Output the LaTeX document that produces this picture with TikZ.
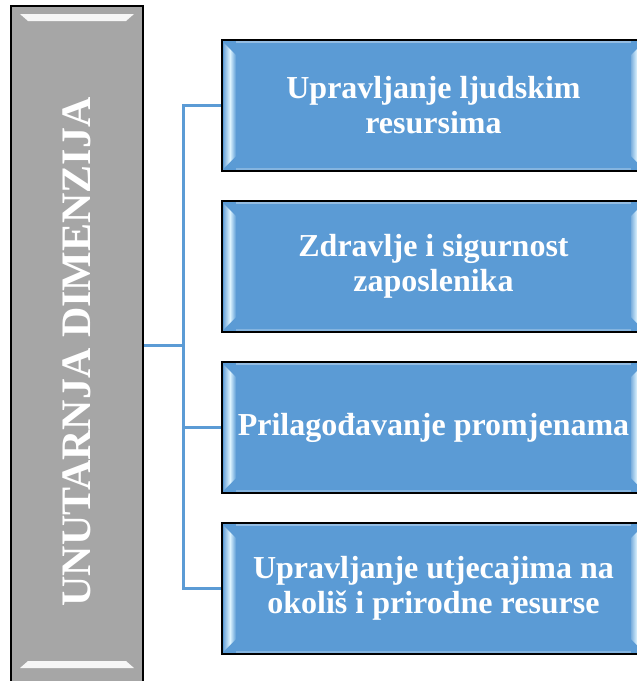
\documentclass[tikz,border=0pt]{standalone}
\usepackage{fontspec}
\setmainfont{Liberation Serif}
\usepackage{graphicx}
\usetikzlibrary{positioning,calc}
\definecolor{boxblue}{HTML}{5B9BD5}
\definecolor{boxgray}{HTML}{A6A6A6}
\definecolor{bevellight}{HTML}{DDF4FF}
\tikzset{
  itembox/.style={draw=black,line width=2pt,fill=boxblue,minimum width=423pt,minimum height=131pt,
    inner sep=0pt,text=white,align=center,font=\fontsize{32}{35}\selectfont\bfseries},
  dimbox/.style={draw=black,line width=2pt,fill=boxgray,minimum width=132pt,minimum height=678pt,
    inner sep=0pt,text=white,font=\fontsize{42}{48}\selectfont\bfseries},
  link/.style={draw=boxblue,line width=3pt},
  bevel/.style={left color=boxblue!80!white,right color=boxblue,middle color=bevellight},
  shine/.style={fill=white,opacity=.9}
}
\begin{document}
\begin{tikzpicture}[x=1pt,y=-1pt]
	\useasboundingbox (0,0) rectangle (637,681);
	\node[dimbox] (dim) at (77,345) {\rotatebox{90}{\hspace{-14pt}UNUTARNJA DIMENZIJA}};
	\fill[shine] ([xshift=10pt,yshift=-9pt]dim.north west) -- ([xshift=-10pt,yshift=-9pt]dim.north east)
		-- ([xshift=-18pt,yshift=-16pt]dim.north east) -- ([xshift=18pt,yshift=-16pt]dim.north west) -- cycle;
	\fill[shine] ([xshift=10pt,yshift=17pt]dim.south west) -- ([xshift=-10pt,yshift=17pt]dim.south east)
		-- ([xshift=-18pt,yshift=24pt]dim.south east) -- ([xshift=18pt,yshift=24pt]dim.south west) -- cycle;

	\node[itembox] (b1) at (433.5,105.5) {Upravljanje ljudskim\\resursima};
	\node[itembox,below=28pt of b1] (b2) {Zdravlje i sigurnost\\zaposlenika};
	\node[itembox,below=28pt of b2] (b3) {Prilagođavanje promjenama};
	\node[itembox,below=28pt of b3] (b4) {Upravljanje utjecajima na\\okoliš i prirodne resurse};

	\foreach \b in {b1,b2,b3,b4} {
		\shade[bevel] ([xshift=3pt,yshift=-4pt]\b.north west) -- ([xshift=15pt,yshift=-16pt]\b.north west)
			-- ([xshift=15pt,yshift=16pt]\b.south west) -- ([xshift=3pt,yshift=4pt]\b.south west) -- cycle;
		\shade[bevel] ([xshift=-3pt,yshift=-4pt]\b.north east) -- ([xshift=-15pt,yshift=-16pt]\b.north east)
			-- ([xshift=-15pt,yshift=16pt]\b.south east) -- ([xshift=-3pt,yshift=4pt]\b.south east) -- cycle;
		\draw[white,opacity=.35,line width=2pt] ([xshift=15pt,yshift=-3pt]\b.north west) -- ([xshift=-15pt,yshift=-3pt]\b.north east);
		\draw[white,opacity=.25,line width=2pt] ([xshift=15pt,yshift=3pt]\b.south west) -- ([xshift=-15pt,yshift=3pt]\b.south east);
	}

	\coordinate[right=39pt of dim.east] (split);
	\draw[link] (dim.east) -- (split) |- (b1.west);
	\draw[link] (split) |- (b3.west);
	\draw[link] (split) |- (b4.west);
\end{tikzpicture}
\end{document}
